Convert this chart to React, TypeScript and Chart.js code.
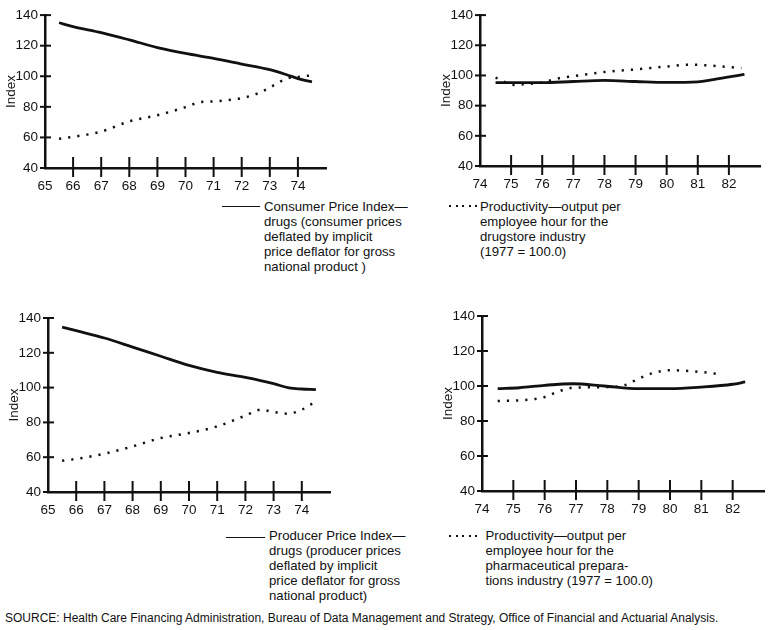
import React, { useEffect, useRef } from "react";
import { Chart, registerables } from "chart.js";

Chart.register(...registerables);

// ---------- data ----------
const yTicksMin = 40;
const yTicksMax = 140;

// Top-left panel (1965-1974)
const tlSolidYears = [65.5, 66, 67, 68, 69, 70, 71, 72, 73, 73.6, 74, 74.5];
const tlSolidValues = [135, 132.5, 128.5, 123.8, 118.8, 114.9, 111.7, 108, 104.3, 101, 98.5, 96.3];
const tlDotYears = [65.5, 66, 67, 68, 69, 70, 70.5, 71, 72, 72.6, 73, 73.6, 74, 74.5];
const tlDotValues = [59.1, 60.4, 63.8, 70.5, 74.5, 79.8, 83, 83.6, 85.7, 89, 92.6, 98.5, 99.6, 100.6];

// Top-right panel (1974-1982)
const trSolidYears = [74.5, 75, 76, 77, 78, 79, 80, 81, 81.5, 82.5];
const trSolidValues = [95.2, 95.2, 95.2, 96, 96.7, 96, 95.4, 95.8, 97.3, 100.7];
const trDotYears = [74.5, 75.1, 75.5, 76, 76.5, 77, 78, 79, 80, 80.8, 81.5, 82.4];
const trDotValues = [98.6, 93.7, 94.3, 95.4, 98, 99.5, 102.3, 104, 105.9, 107.2, 106.4, 104.9];

// Bottom-left panel (1965-1974)
const blSolidYears = [65.5, 66, 67, 68, 69, 70, 71, 72, 73, 73.55, 74, 74.5];
const blSolidValues = [134.8, 132.7, 128.5, 123.3, 118, 112.8, 108.8, 105.9, 102.3, 99.8, 99.2, 98.8];
const blDotYears = [65.5, 66, 67, 68, 69, 70, 71, 72, 72.55, 73, 73.5, 74, 74.5];
const blDotValues = [58, 59, 62, 66.2, 71, 73.9, 77.7, 83.9, 87.3, 86, 85, 87.3, 92.1];

// Bottom-right panel (1974-1982)
const brSolidYears = [74.5, 75.2, 76, 76.9, 77.9, 79, 80, 81, 82, 82.4];
const brSolidValues = [98.5, 99, 100.4, 101.3, 100, 98.5, 98.5, 99.4, 101, 102.3];
const brDotYears = [74.5, 75.5, 76, 76.4, 76.9, 77.9, 78.55, 79, 79.5, 80, 81, 81.6];
const brDotValues = [91.4, 92.2, 93.7, 96.6, 99, 99.4, 100.4, 104.2, 107.6, 109, 108, 106.7];

const FONT = '"Liberation Sans", Arial, Helvetica, sans-serif';
const INK = "#111";

const crossTicks = {
  id: "crossTicks",
  afterDraw(chart: any) {
    const { ctx } = chart;
    const x = chart.scales.x;
    const y = chart.scales.y;
    ctx.save();
    ctx.strokeStyle = INK;
    ctx.lineWidth = 2;
    x.ticks.forEach((t: any) => {
      if (t.value === x.min) return;
      const px = x.getPixelForValue(t.value);
      ctx.beginPath();
      ctx.moveTo(px, y.bottom - 11);
      ctx.lineTo(px, y.bottom + 9);
      ctx.stroke();
    });
    y.ticks.forEach((t: any) => {
      const py = y.getPixelForValue(t.value);
      ctx.beginPath();
      ctx.moveTo(x.left - 5, py);
      ctx.lineTo(x.left + 6, py);
      ctx.stroke();
    });
    ctx.restore();
  },
};

type PanelProps = {
  left: number;
  top: number;
  width: number;
  height: number;
  areaTop: number;
  areaRight: number;
  areaBottom: number;
  xMin: number;
  xMax: number;
  xLast: number;
  solidX: number[];
  solidY: number[];
  dotX: number[];
  dotY: number[];
};

function Panel(p: PanelProps) {
  const ref = useRef<HTMLCanvasElement | null>(null);
  useEffect(() => {
    if (!ref.current) return;
    const chart = new Chart(ref.current, {
      type: "line",
      data: {
        datasets: [
          {
            data: p.solidX.map((x, i) => ({ x, y: p.solidY[i] })),
            borderColor: INK,
            borderWidth: 2.8,
            pointRadius: 0,
            cubicInterpolationMode: "monotone",
          },
          {
            data: p.dotX.map((x, i) => ({ x, y: p.dotY[i] })),
            borderColor: INK,
            borderWidth: 2.5,
            borderDash: [2.2, 7],
            borderCapStyle: "butt",
            pointRadius: 0,
            cubicInterpolationMode: "monotone",
          },
        ],
      },
      options: {
        responsive: false,
        animation: false,
        layout: { padding: { top: p.areaTop, right: p.width - p.areaRight, left: 0, bottom: 0 } },
        plugins: { legend: { display: false }, tooltip: { enabled: false } },
        scales: {
          x: {
            type: "linear",
            min: p.xMin,
            max: p.xMax,
            grid: { display: false, drawTicks: false },
            border: { display: true, width: 2.5, color: INK },
            ticks: {
              stepSize: 1,
              padding: 10,
              color: INK,
              autoSkip: false,
              maxRotation: 0,
              font: { family: FONT, size: 13.5 },
            },
            afterBuildTicks: (s: any) => {
              s.ticks = s.ticks.filter((t: any) => t.value <= p.xLast);
            },
            afterFit: (s: any) => {
              s.height = p.height - p.areaBottom;
            },
          },
          y: {
            min: yTicksMin,
            max: yTicksMax,
            grid: { display: false, drawTicks: false },
            border: { display: true, width: 2.5, color: INK },
            ticks: { stepSize: 20, padding: 7, color: INK, font: { family: FONT, size: 13.5 } },
            title: {
              display: true,
              text: "Index",
              color: INK,
              font: { family: FONT, size: 13.5 },
              padding: { top: 3, bottom: 0 },
            },
            afterFit: (s: any) => {
              s.width = 45;
            },
          },
        },
      } as any,
      plugins: [crossTicks],
    });
    return () => chart.destroy();
  }, []);
  return (
    <canvas
      ref={ref}
      width={p.width}
      height={p.height}
      style={{ position: "absolute", left: p.left, top: p.top, width: p.width, height: p.height }}
    />
  );
}

const textStyle: React.CSSProperties = {
  position: "absolute",
  fontFamily: FONT,
  fontSize: 13.2,
  lineHeight: "15.2px",
  color: INK,
  whiteSpace: "nowrap",
};

function SolidKey({ left, top, width }: { left: number; top: number; width: number }) {
  return <div style={{ position: "absolute", left, top, width, height: 0, borderTop: `1.5px solid ${INK}` }} />;
}

function DotKey({ left, top, width }: { left: number; top: number; width: number }) {
  return (
    <div
      style={{
        position: "absolute",
        left,
        top,
        width,
        height: 2,
        backgroundImage: `repeating-linear-gradient(to right, ${INK} 0 2px, transparent 2px 6.5px)`,
      }}
    />
  );
}

export default function App() {
  return (
    <div style={{ position: "absolute", left: 0, top: 0, width: 771, height: 630, background: "#fff", overflow: "hidden" }}>
      <Panel left={0} top={0} width={340} height={195} areaTop={12} areaRight={326} areaBottom={168}
        xMin={65} xMax={75} xLast={74} solidX={tlSolidYears} solidY={tlSolidValues} dotX={tlDotYears} dotY={tlDotValues} />
      <Panel left={435} top={0} width={339} height={195} areaTop={9} areaRight={325} areaBottom={166}
        xMin={74} xMax={83} xLast={82} solidX={trSolidYears} solidY={trSolidValues} dotX={trDotYears} dotY={trDotValues} />
      <Panel left={3} top={300} width={340} height={220} areaTop={18} areaRight={327} areaBottom={192}
        xMin={65} xMax={75} xLast={74} solidX={blSolidYears} solidY={blSolidValues} dotX={blDotYears} dotY={blDotValues} />
      <Panel left={437} top={300} width={334} height={220} areaTop={16} areaRight={327} areaBottom={191}
        xMin={74} xMax={83} xLast={82} solidX={brSolidYears} solidY={brSolidValues} dotX={brDotYears} dotY={brDotValues} />

      <SolidKey left={222} top={206} width={38} />
      <div style={{ ...textStyle, left: 264, top: 198.5 }}>
        Consumer Price Index—<br />drugs (consumer prices<br />deflated by implicit<br />price deflator for gross<br />national product )
      </div>
      <DotKey left={449} top={205} width={30} />
      <div style={{ ...textStyle, left: 480, top: 198.5 }}>
        Productivity—output per<br />employee hour for the<br />drugstore industry<br />(1977 = 100.0)
      </div>

      <SolidKey left={226} top={537} width={39} />
      <div style={{ ...textStyle, left: 269, top: 527.5 }}>
        Producer Price Index—<br />drugs (producer prices<br />deflated by implicit<br />price deflator for gross<br />national product)
      </div>
      <DotKey left={449} top={535} width={30} />
      <div style={{ ...textStyle, left: 485.5, top: 527.5 }}>
        Productivity—output per<br />employee hour for the<br />pharmaceutical prepara-<br />tions industry (1977 = 100.0)
      </div>

      <div style={{ ...textStyle, left: 5, top: 611, fontSize: 12, lineHeight: "14px" }}>
        SOURCE: Health Care Financing Administration, Bureau of Data Management and Strategy, Office of Financial and Actuarial Analysis.
      </div>
    </div>
  );
}
